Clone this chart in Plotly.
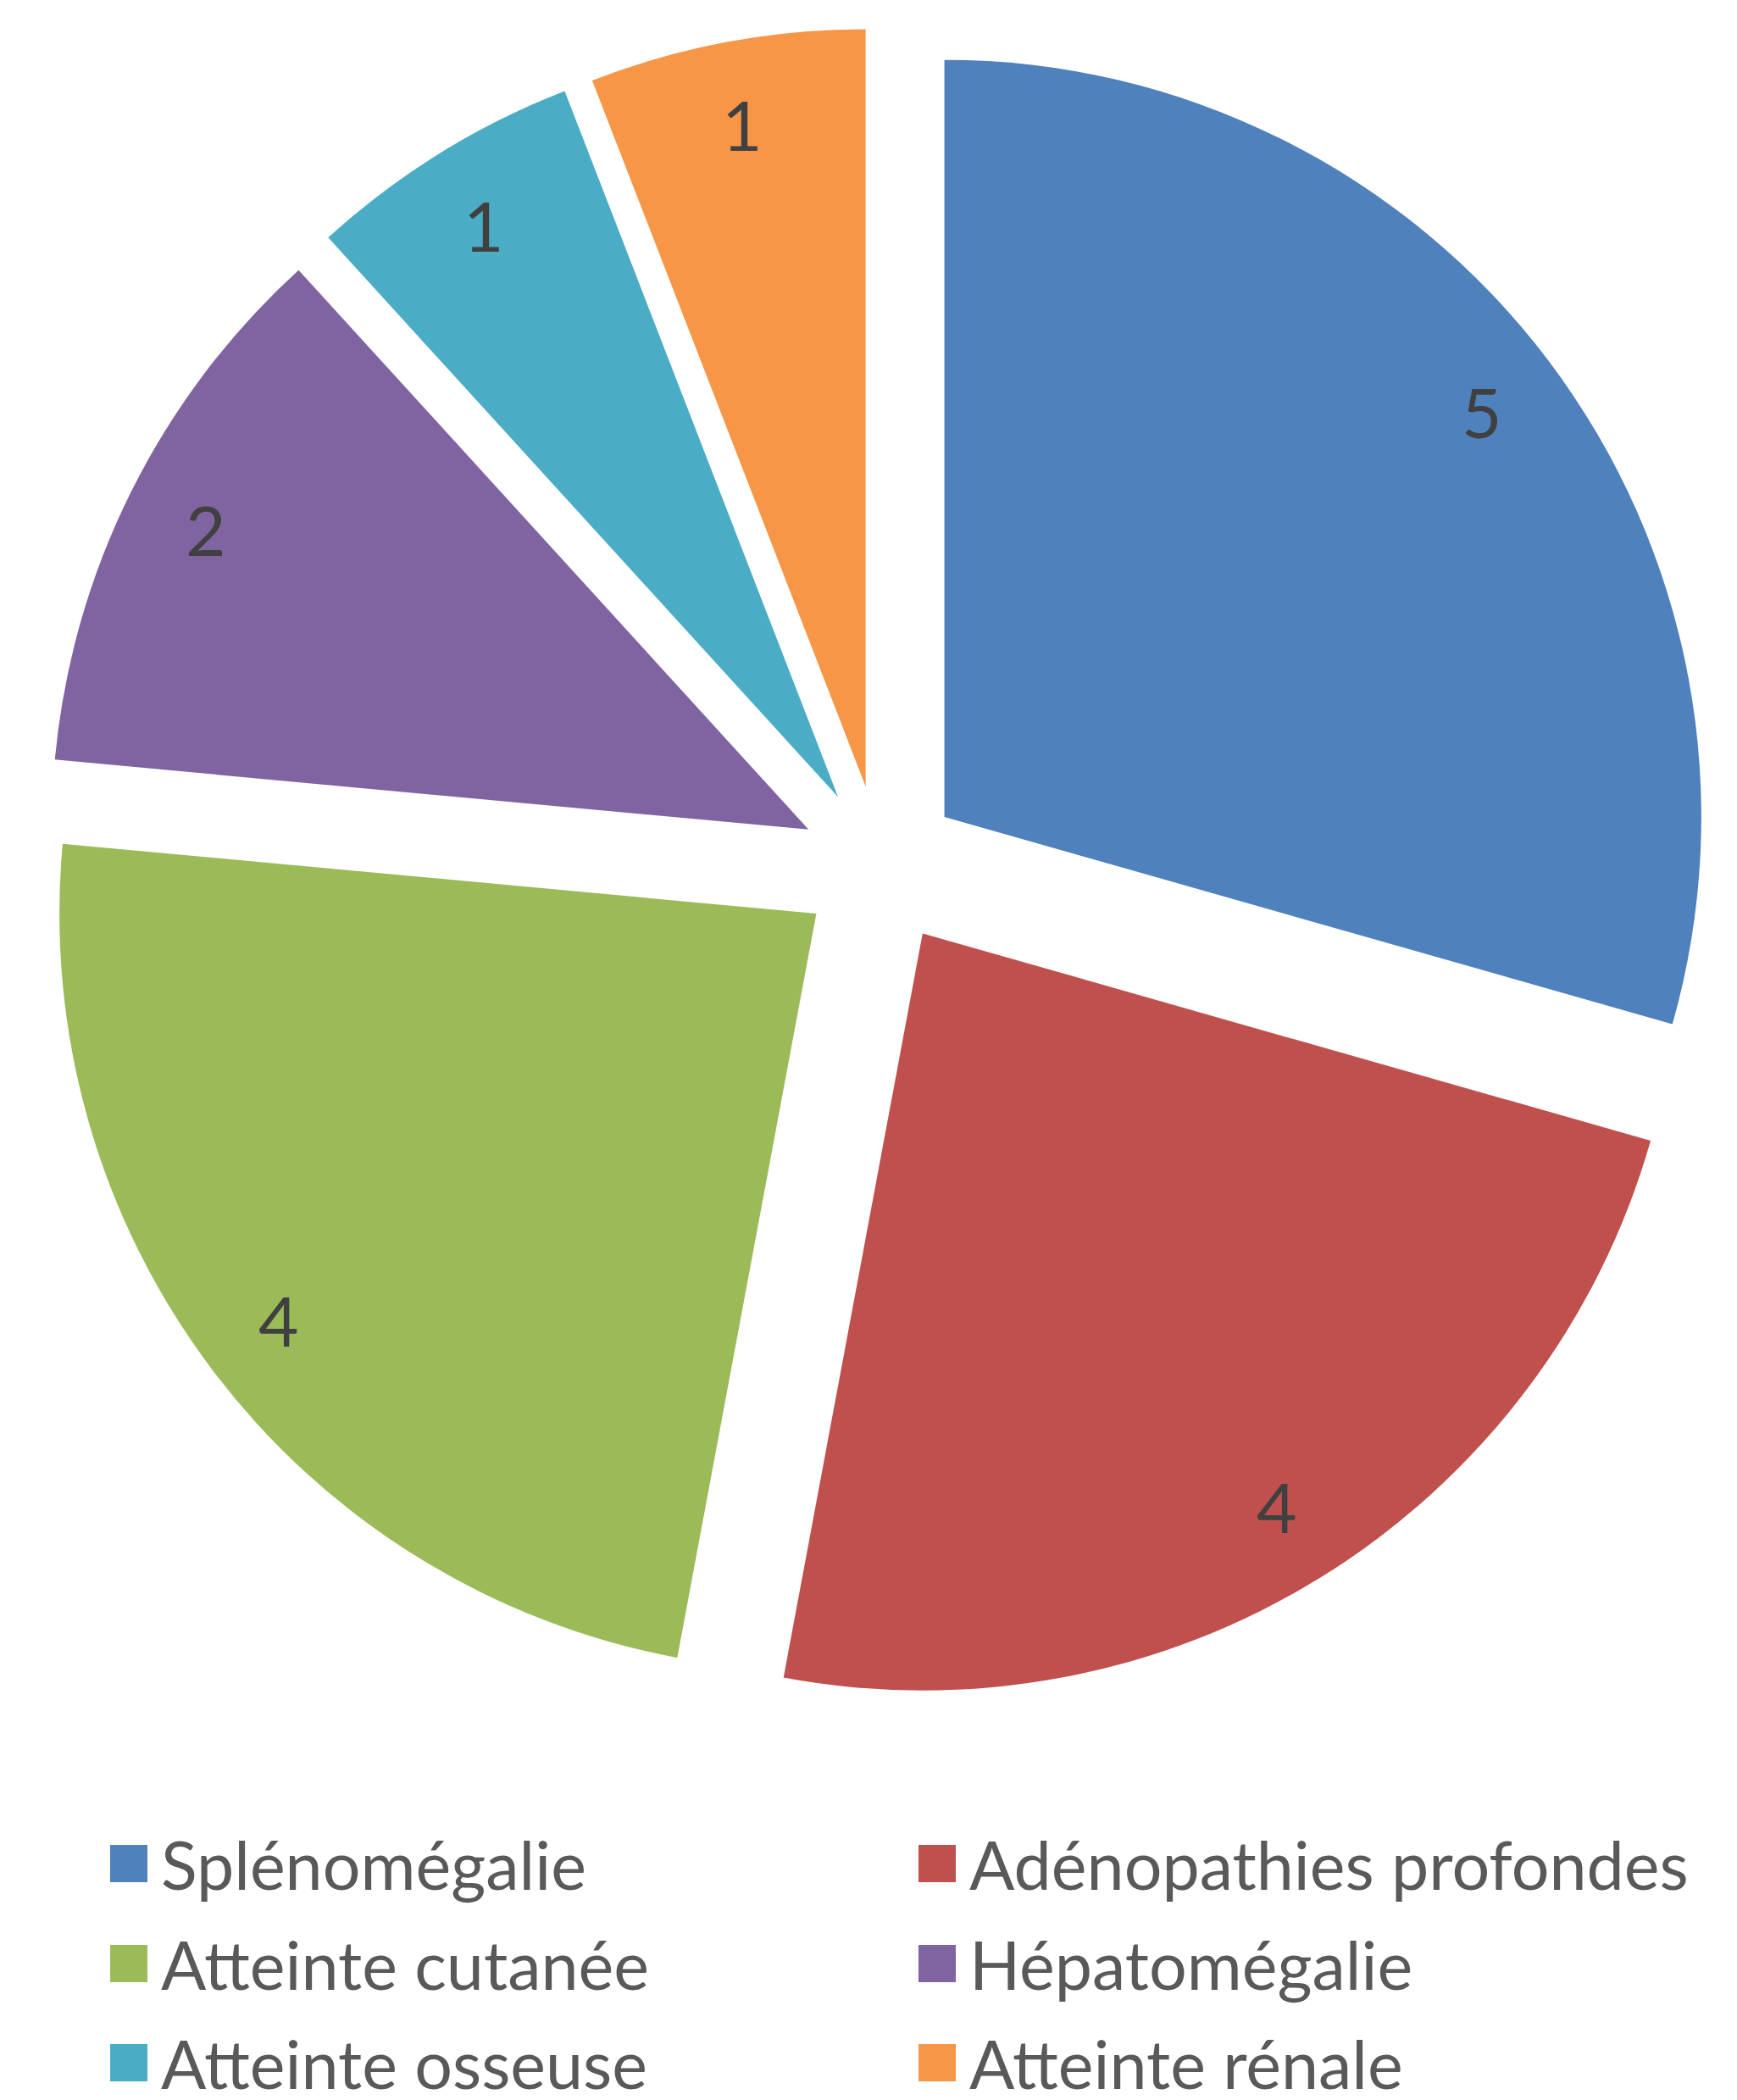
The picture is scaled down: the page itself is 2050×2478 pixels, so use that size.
import math
import plotly.graph_objects as go

categories = ["Splénomégalie", "Adénopathies profondes", "Atteinte cutanée",
              "Hépatomégalie", "Atteinte osseuse", "Atteinte rénale"]
values = [5, 4, 4, 2, 1, 1]
colors = ["#4F81BD", "#C0504D", "#9BBB59", "#8064A2", "#4BACC6", "#F79646"]

W, H = 2050, 2478
PULL = 0.106
# pie domain in pixels
dom_x_px = (43, 2019)
dom_y_px = (25, 2001)

fig = go.Figure()
fig.add_trace(go.Pie(
    labels=categories, values=values, sort=False, direction="clockwise",
    rotation=0, pull=[PULL] * len(values),
    marker=dict(colors=colors, line=dict(width=0)),
    textinfo="none", hoverinfo="label+value", showlegend=False,
    domain=dict(x=[dom_x_px[0] / W, dom_x_px[1] / W],
                y=[1 - dom_y_px[1] / H, 1 - dom_y_px[0] / H]),
))

# data labels computed from slice angles
cx = (dom_x_px[0] + dom_x_px[1]) / 2
cy = (dom_y_px[0] + dom_y_px[1]) / 2
r = (dom_x_px[1] - dom_x_px[0]) / (2 + 2 * PULL)
total = sum(values)
annotations = []
cum = 0
for v in values:
    mid = (cum + v / 2) / total * 2 * math.pi
    cum += v
    dist = PULL * r + 0.89 * r
    px = cx + dist * math.sin(mid)
    py = cy - dist * math.cos(mid)
    annotations.append(dict(
        x=px / W, y=1 - py / H, xref="paper", yref="paper", text=str(v),
        showarrow=False, xanchor="center", yanchor="middle",
        font=dict(family="Lato", size=82, color="#404040")))

# legend built as shapes + text
shapes = []
col_sq_x = [122, 1076]
row_y = [2191, 2309, 2426]
sq = 44
for i, (name, c) in enumerate(zip(categories, colors)):
    col, row = i % 2, i // 2
    x0 = col_sq_x[col]
    yc = row_y[row]
    shapes.append(dict(type="rect", xref="paper", yref="paper",
                       x0=x0 / W, x1=(x0 + sq) / W,
                       y0=1 - (yc + sq / 2) / H, y1=1 - (yc - sq / 2) / H,
                       fillcolor=c, line=dict(width=0)))
    annotations.append(dict(
        x=(x0 + sq + 14) / W, y=1 - yc / H, xref="paper", yref="paper",
        text=name, showarrow=False, xanchor="left", yanchor="middle",
        font=dict(family="Lato", size=79, color="#595959")))

fig.update_layout(
    width=W, height=H, margin=dict(l=0, r=0, t=0, b=0),
    paper_bgcolor="white", plot_bgcolor="white",
    annotations=annotations, shapes=shapes, showlegend=False,
)
fig.write_html("out.html")
